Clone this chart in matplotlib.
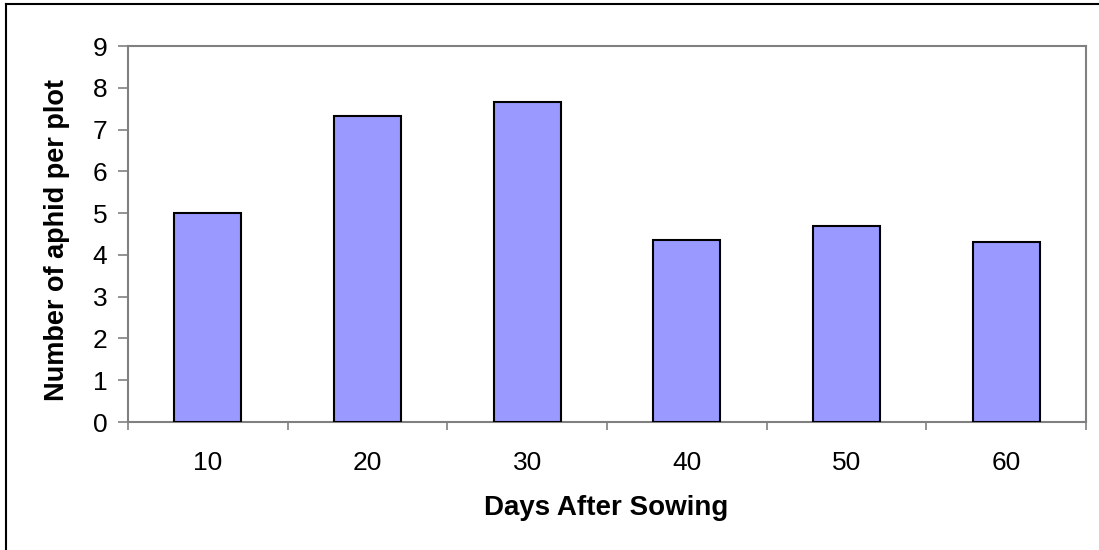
import matplotlib.pyplot as plt
import numpy as np
from matplotlib.lines import Line2D

plt.rcParams['font.family'] = ['Liberation Sans', 'DejaVu Sans']

# Данные
days = ['10', '20', '30', '40', '50', '60']
aphids = [5.0, 7.33, 7.67, 4.35, 4.7, 4.3]

fig = plt.figure(figsize=(10.99, 5.5), dpi=100)

# рамка вокруг всей диаграммы (как в Excel)
fig.add_artist(Line2D([6/1099, 6/1099], [-0.1, 1 - 4/550], transform=fig.transFigure,
                      color='black', linewidth=1.5))
fig.add_artist(Line2D([6/1099, 1.1], [1 - 4/550, 1 - 4/550], transform=fig.transFigure,
                      color='black', linewidth=1.5))

ax = fig.add_axes([128/1099, 1 - 422/550, (1086 - 128)/1099, (422 - 46)/550])

x = np.arange(len(days))
ax.bar(x, aphids, width=0.42, color='#9999FF', edgecolor='black', linewidth=1.5, zorder=3)

ax.set_xlim(-0.5, len(days) - 0.5)
ax.set_ylim(0, 9)
ax.set_yticks(range(0, 10))

# риски x по границам категорий, подписи по центрам
ax.set_xticks(np.arange(-0.5, len(days), 1.0))
ax.set_xticklabels([])
ax.set_xticks(x, minor=True)
ax.set_xticklabels(days, minor=True)
ax.tick_params(axis='x', which='major', direction='out', length=6, width=1.2, color='#808080')
ax.tick_params(axis='x', which='minor', length=0, pad=21, labelsize=19)
ax.tick_params(axis='y', direction='out', length=7, width=1.2, color='#808080', labelsize=19, pad=8)

for side in ['left', 'right', 'top', 'bottom']:
    ax.spines[side].set_color('#808080')
    ax.spines[side].set_linewidth(1.5)

# подписи осей
fig.text(606/1099, 1 - 508/550, 'Days After Sowing', fontsize=20, fontweight='bold',
         ha='center', va='center')
fig.text(57/1099, 1 - 240/550, 'Number of aphid per plot', fontsize=19.5, fontweight='bold',
         rotation=90, ha='center', va='center')

plt.savefig('out.png', dpi=100)
